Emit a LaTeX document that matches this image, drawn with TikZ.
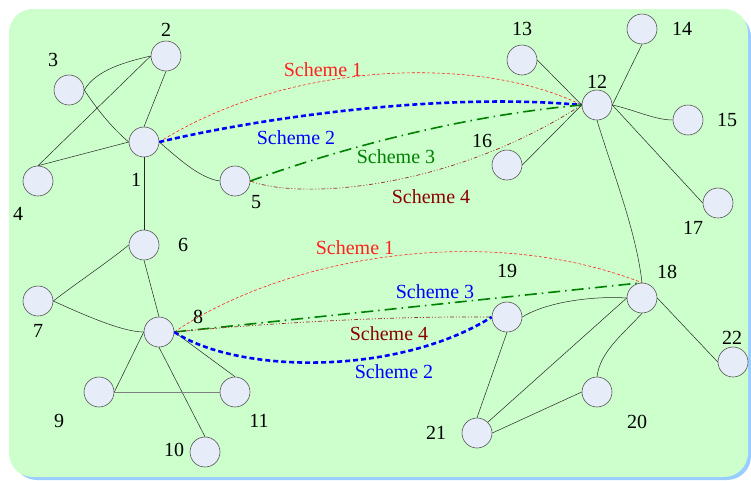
\documentclass[tikz,border=0pt]{standalone}
\usepackage{fontspec}
\setmainfont{Liberation Serif}
\definecolor{bggreen}{HTML}{CCFFCC}
\definecolor{shadowblue}{HTML}{99CCFF}
\definecolor{nodefill}{HTML}{E6ECF8}
\definecolor{nodeline}{HTML}{555555}
\definecolor{sred}{HTML}{FF2020}
\definecolor{sblue}{HTML}{0000FF}
\definecolor{sgreen}{HTML}{008000}
\definecolor{sbrown}{HTML}{8B0000}
\begin{document}
\begin{tikzpicture}[x=1pt,y=-1pt,
  vertex/.style={circle,minimum size=30pt,inner sep=0pt,fill=nodefill,draw=nodeline,line width=0.6pt},
  lbl/.style={font=\fontsize{20}{24}\selectfont,inner sep=0pt},
  edge/.style={line width=0.5pt,draw=black!85},
  schemeone/.style={draw=sred,line width=0.6pt,dash pattern=on 3pt off 2pt},
  schemetwo/.style={draw=sblue,line width=2.6pt,dash pattern=on 5pt off 3pt},
  schemethree/.style={draw=sgreen,line width=1.6pt,dash pattern=on 12pt off 5pt on 1.5pt off 5pt},
  schemefour/.style={draw=sbrown!85!white,line width=0.7pt,dash pattern=on 4pt off 2pt on 1pt off 2pt on 1pt off 2pt}
]
\useasboundingbox (0,0) rectangle (751,480);
% background
\fill[shadowblue,rounded corners=24pt] (13,13) rectangle (751,480);
\fill[bggreen,rounded corners=24pt] (9,9) rectangle (748,477);

% vertices
\node[vertex] (n1) at (144,142) {};
\node[vertex] (n2) at (166,56) {};
\node[vertex] (n3) at (69,90) {};
\node[vertex] (n4) at (38,181) {};
\node[vertex] (n5) at (235,181) {};
\node[vertex] (n6) at (144,245) {};
\node[vertex] (n7) at (38,301) {};
\node[vertex] (n8) at (159,332) {};
\node[vertex] (n9) at (99,392) {};
\node[vertex] (n10) at (205,452) {};
\node[vertex] (n11) at (235,392) {};
\node[vertex] (n12) at (597,105) {};
\node[vertex] (n13) at (522,60) {};
\node[vertex] (n14) at (642,29) {};
\node[vertex] (n15) at (688,120) {};
\node[vertex] (n16) at (507,165) {};
\node[vertex] (n17) at (718,203) {};
\node[vertex] (n18) at (642,298) {};
\node[vertex] (n19) at (507,317) {};
\node[vertex] (n20) at (597,392) {};
\node[vertex] (n21) at (477,433) {};
\node[vertex] (n22) at (733,362) {};

% number labels
\node[lbl] (l1) at (136,180) {1};
\node[lbl] (l2) at (166,30) {2};
\node[lbl] (l3) at (53,60) {3};
\node[lbl] (l4) at (18,214) {4};
\node[lbl] (l5) at (256,202) {5};
\node[lbl] (l6) at (183,245) {6};
\node[lbl] (l7) at (38,331) {7};
\node[lbl] (l8) at (198,317) {8};
\node[lbl] (l9) at (59,421) {9};
\node[lbl] (l10) at (174,450) {10};
\node[lbl] (l11) at (259,421) {11};
\node[lbl] (l12) at (597,82) {12};
\node[lbl] (l13) at (522,29) {13};
\node[lbl] (l14) at (682,29) {14};
\node[lbl] (l15) at (727,120) {15};
\node[lbl] (l16) at (482,141) {16};
\node[lbl] (l17) at (693,228) {17};
\node[lbl] (l18) at (667,272) {18};
\node[lbl] (l19) at (507,271) {19};
\node[lbl] (l20) at (637,422) {20};
\node[lbl] (l21) at (436,433) {21};
\node[lbl] (l22) at (732,338) {22};

% black edges
\draw[edge] (n3.east) .. controls (96,70) and (125,62) .. (n2.west);
\draw[edge] (n3.east) .. controls (96,108) and (112,128) .. (n1.west);
\draw[edge] (n2.west) -- (n4.north);
\draw[edge] (n2.south) -- (n1.north);
\draw[edge] (n4.north) -- (n1.west);
\draw[edge] (n1.east) .. controls (180,160) and (200,178) .. (n5.west);
\draw[edge] (n1.south) -- (n6.north);
\draw[edge] (n6.west) .. controls (108,262) and (78,282) .. (n7.east);
\draw[edge] (n7.east) .. controls (82,314) and (122,332) .. (n8.west);
\draw[edge] (n6.south) -- (n8.north);
\draw[edge] (n8.west) -- (n9.east);
\draw[edge] (n8.south) -- (n10.north);
\draw[edge] (n8.east) -- (n11.north);
\draw[draw=black!50,line width=0.8pt] (n9.east) -- (n11.west);

\draw[edge] (n13.east) -- (n12.west);
\draw[edge] (n14.south) -- (n12.east);
\draw[edge] (n12.east) .. controls (635,110) and (655,120) .. (n15.west);
\draw[edge] (n16.east) -- (n12.west);
\draw[edge] (n12.east) -- (n17.west);
\draw[edge] (n12.south) .. controls (612,170) and (636,230) .. (n18.north);
\draw[edge] (n18.west) .. controls (600,296) and (550,300) .. (n19.east);
\draw[edge] (n18.west) -- (n21.north east);
\draw[edge] (n18.south) .. controls (622,335) and (600,352) .. (n20.north);
\draw[edge] (n18.east) -- (n22.west);
\draw[edge] (n19.south) -- (n21.north);
\draw[edge] (n21.east) -- (n20.west);

% top schemes
\draw[schemeone] (n1.east) .. controls (290,60) and (480,55) .. (n12.west);
\draw[schemetwo] (n1.east) .. controls (260,118) and (440,92) .. (n12.west);
\draw[schemethree] (n5.east) .. controls (350,145) and (470,115) .. (n12.west);
\draw[schemefour] (n5.east) .. controls (300,200) and (450,190) .. (n12.west);

% bottom schemes
\draw[schemeone] (n8.east) .. controls (280,260) and (480,220) .. (n18.north);
\draw[schemethree] (n8.east) -- (n18.north);
\draw[schemefour] (n8.east) .. controls (280,322) and (400,316) .. (n19.west);
\draw[schemetwo] (n8.east) .. controls (240,375) and (400,375) .. (n19.west);

% scheme labels
\node[lbl,text=sred] (s1t) at (323,70) {Scheme 1};
\node[lbl,text=sblue] (s2t) at (296,138) {Scheme 2};
\node[lbl,text=sgreen] (s3t) at (396,157) {Scheme 3};
\node[lbl,text=sbrown] (s4t) at (431,197) {Scheme 4};
\node[lbl,text=sred] (s1b) at (355,248) {Scheme 1};
\node[lbl,text=sblue] (s3b) at (435,292) {Scheme 3};
\node[lbl,text=sbrown] (s4b) at (389,334) {Scheme 4};
\node[lbl,text=sblue] (s2b) at (394,372) {Scheme 2};
\end{tikzpicture}
\end{document}
